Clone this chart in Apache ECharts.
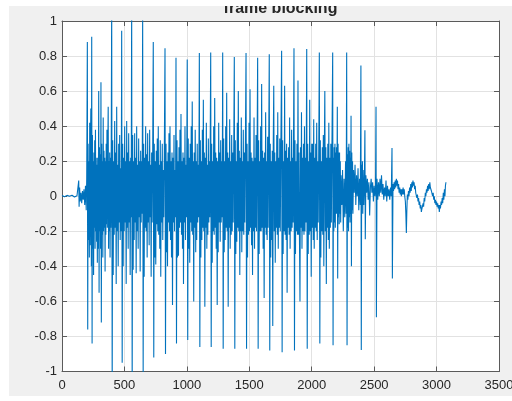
<!DOCTYPE html>
<html>
<head>
<meta charset="utf-8">
<script src="https://cdn.jsdelivr.net/npm/echarts@6/dist/echarts.min.js"></script>
<style>
  html, body { margin: 0; padding: 0; background: #ffffff; width: 512px; height: 401px; overflow: hidden; }
  #fig { position: absolute; left: 9px; top: 6px; width: 503px; height: 390px; background: #f0f0f0; }
</style>
</head>
<body>
<div id="fig"></div>
<script>
// Axis ticks
const xTicks = [0, 500, 1000, 1500, 2000, 2500, 3000, 3500];
const yTicks = [-1, -0.8, -0.6, -0.4, -0.2, 0, 0.2, 0.4, 0.6, 0.8, 1];

// Leading silence and the first irregular glottal pulses, [sample, amplitude]
const onset = [
  [0, 0.004], [20, -0.003], [40, 0.005], [60, 0.0], [80, 0.006], [100, -0.004], [120, 0.003], [130, 0.0],
  [134, 0.09], [137, -0.06], [141, 0.05], [146, -0.03], [152, 0.02], [158, -0.04], [164, 0.03], [170, -0.02],
  [176, 0.04], [182, -0.05], [188, 0.06], [194, -0.08], [198, 0.1],
  [203, 0.88], [206, -0.76], [209, 0.3], [212, -0.25], [216, 0.2], [219, -0.35], [222, 0.42], [225, -0.28], [228, 0.3], [231, 0.5], [235, -0.4],
  [238, 0.91], [241, -0.84], [244, 0.35], [247, -0.3], [250, 0.2], [253, -0.45], [256, 0.25], [259, -0.18], [262, 0.32], [265, -0.3], [268, 0.38], [271, -0.2],
  [274, 0.22], [277, -0.26], [280, 0.18], [283, -0.38], [286, 0.22], [290, -0.3], [294, 0.6], [297, -0.55], [300, 0.28], [303, -0.2], [306, 0.24], [309, -0.3],
  [312, 0.65], [315, -0.72], [318, 0.3], [321, -0.22], [324, 0.2], [327, -0.35], [330, 0.45], [333, -0.2], [336, 0.26], [339, -0.18], [342, 0.22], [345, -0.43],
  [348, 0.2], [351, -0.22], [354, 0.3], [357, -0.16], [360, 0.38], [363, -0.18], [366, 0.22], [370, 0.51], [373, -0.3], [376, 0.2], [379, -0.2], [382, 0.25], [385, -0.35],
  [388, 0.22], [391, -0.18], [394, 0.2]
];

// Voiced section: sample where each pitch pulse starts, and the pulse's
// amplitudes taken every 4 samples from that start
const pulseStep = 4;
const pulseStarts = [398, 478, 558, 646, 731, 825, 913, 1003, 1100, 1191, 1287, 1380, 1474, 1567, 1660, 1759, 1858, 1960, 2061];
const pulseShapes = [
  [1.12, -1.1, 0.32, -0.45, 0.2, -0.22, 0.43, -0.18, 0.25, -0.5, 0.51, -0.2, 0.18, -0.4, 0.3, -0.15, 0.35, -0.25, 0.16, -0.2],
  [0.945, -0.95, 0.3, -0.4, 0.22, -0.2, 0.4, -0.15, 0.2, -0.5, 0.43, -0.18, 0.25, -0.3, 0.36, -0.15, 0.2, -0.45, 0.22, -0.12],
  [1.1, -1.1, 0.35, -0.42, 0.2, -0.25, 0.36, -0.15, 0.22, -0.44, 0.4, -0.2, 0.18, -0.3, 0.33, -0.12, 0.2, -0.43, 0.26, -0.15, 0.2, -0.1],
  [1.05, -1.02, 0.3, -0.46, 0.22, -0.18, 0.4, -0.2, 0.24, -0.35, 0.36, -0.15, 0.2, -0.28, 0.38, -0.12, 0.18, -0.46, 0.25, -0.15, 0.2],
  [0.88, -0.92, 0.3, -0.35, 0.2, -0.39, 0.26, -0.16, 0.33, -0.2, 0.4, -0.22, 0.18, -0.3, 0.32, -0.46, 0.2, -0.15, 0.3, -0.25, 0.15, -0.12, 0.2],
  [0.845, -0.9, 0.3, -0.32, 0.2, -0.4, 0.25, -0.15, 0.36, -0.2, 0.4, -0.25, 0.2, -0.35, 0.25, -0.62, 0.22, -0.15, 0.35, -0.2, 0.15, -0.12],
  [0.79, -0.84, 0.32, -0.35, 0.2, -0.34, 0.28, -0.18, 0.38, -0.15, 0.47, -0.22, 0.2, -0.3, 0.25, -0.5, 0.22, -0.15, 0.4, -0.25, 0.18, -0.12],
  [0.78, -0.82, 0.33, -0.3, 0.22, -0.38, 0.3, -0.15, 0.4, -0.2, 0.54, -0.22, 0.2, -0.6, 0.25, -0.18, 0.38, -0.32, 0.2, -0.25, 0.3, -0.15, 0.18, -0.12],
  [0.817, -0.86, 0.32, -0.35, 0.2, -0.25, 0.38, -0.18, 0.55, -0.2, 0.25, -0.63, 0.22, -0.18, 0.42, -0.3, 0.18, -0.22, 0.33, -0.15, 0.2, -0.12],
  [0.82, -0.86, 0.3, -0.38, 0.2, -0.2, 0.4, -0.22, 0.56, -0.18, 0.25, -0.3, 0.22, -0.62, 0.2, -0.32, 0.42, -0.15, 0.25, -0.26, 0.32, -0.15, 0.2, -0.12],
  [0.82, -0.87, 0.33, -0.32, 0.2, -0.25, 0.4, -0.18, 0.59, -0.2, 0.25, -0.63, 0.22, -0.18, 0.44, -0.3, 0.2, -0.22, 0.35, -0.2, 0.25, -0.15, 0.2],
  [0.794, -0.87, 0.32, -0.33, 0.2, -0.26, 0.42, -0.18, 0.6, -0.2, 0.26, -0.45, 0.22, -0.2, 0.45, -0.32, 0.2, -0.2, 0.38, -0.22, 0.25, -0.15, 0.22],
  [0.817, -0.87, 0.3, -0.35, 0.2, -0.22, 0.42, -0.2, 0.61, -0.18, 0.25, -0.28, 0.22, -0.45, 0.2, -0.2, 0.45, -0.3, 0.22, -0.18, 0.35, -0.2, 0.22],
  [0.79, -0.87, 0.32, -0.33, 0.2, -0.2, 0.4, -0.2, 0.64, -0.18, 0.26, -0.3, 0.22, -0.58, 0.25, -0.18, 0.48, -0.22, 0.2, -0.25, 0.34, -0.18, 0.22],
  [0.81, -0.88, 0.3, -0.35, 0.2, -0.25, 0.26, -0.74, 0.3, 0.63, -0.2, 0.25, -0.38, 0.2, -0.18, 0.35, -0.22, 0.48, -0.3, 0.22, -0.18, 0.33, -0.2, 0.2],
  [0.83, -0.89, 0.32, -0.33, 0.2, -0.2, 0.63, -0.22, 0.26, -0.25, 0.3, -0.55, 0.22, -0.18, 0.28, -0.22, 0.45, -0.3, 0.2, -0.2, 0.38, -0.18, 0.22, -0.15],
  [0.845, -0.88, 0.32, -0.33, 0.2, -0.2, 0.3, -0.22, 0.66, -0.22, 0.25, -0.25, -0.6, 0.28, -0.18, 0.48, -0.3, 0.22, -0.2, 0.3, -0.22, 0.4, -0.2, 0.22, -0.15],
  [0.84, -0.87, 0.3, -0.33, 0.2, -0.22, 0.55, -0.2, 0.25, -0.46, 0.3, -0.18, 0.3, -0.25, 0.44, -0.3, 0.22, -0.18, 0.3, -0.2, 0.42, -0.25, 0.2, -0.15, 0.22],
  [0.82, -0.84, 0.32, -0.35, 0.2, -0.2, 0.28, -0.22, 0.35, -0.4, 0.25, 0.6, -0.2, 0.28, -0.5, 0.22, -0.18, 0.3, -0.25, 0.42, -0.3, 0.22, -0.18, 0.3, -0.15, 0.2]
];

// Fading pulses at the end of the vowel, [sample, amplitude]
const decay = [
  [2168, 0.82], [2171, -0.85], [2174, 0.22], [2177, -0.2], [2180, 0.28], [2183, -0.15], [2186, 0.3], [2189, -0.18], [2192, 0.25], [2195, -0.1], [2198, 0.28], [2201, -0.1], [2205, 0.51], [2208, -0.47],
  [2211, 0.3], [2214, -0.12], [2217, 0.25], [2220, -0.16], [2223, 0.25], [2226, -0.1], [2229, 0.2], [2232, -0.15], [2235, 0.12], [2241, -0.05], [2247, 0.15], [2253, -0.2], [2259, 0.1], [2265, -0.12], [2271, 0.2], [2276, -0.1],
  [2280, 0.82], [2283, -0.85], [2286, 0.24], [2289, -0.18], [2292, 0.28], [2295, -0.2], [2298, 0.3], [2301, -0.12], [2304, 0.26], [2307, -0.15], [2310, 0.22], [2312, -0.1], [2315, 0.46], [2318, -0.4],
  [2321, 0.25], [2324, -0.08], [2327, 0.2], [2330, -0.1], [2335, 0.15], [2341, 0.02], [2347, 0.18], [2353, -0.05], [2359, 0.12], [2365, 0.0], [2371, 0.16], [2377, -0.08], [2383, 0.1], [2389, -0.05],
  [2394, 0.746], [2397, -0.877], [2400, 0.18], [2403, -0.05], [2406, 0.2], [2409, -0.1], [2412, 0.15], [2417, -0.05], [2422, 0.1], [2426, 0.376], [2429, -0.245], [2434, 0.12], [2440, 0.02], [2446, 0.1],
  [2452, -0.02], [2458, 0.08], [2464, -0.11], [2470, 0.05], [2476, 0.1], [2482, 0.02], [2488, 0.08], [2494, -0.03], [2500, 0.06], [2506, 0.0], [2511, 0.05],
  [2515, 0.51], [2518, -0.69], [2523, 0.1], [2529, -0.02], [2535, 0.08], [2541, 0.0], [2547, 0.1], [2553, 0.02], [2559, 0.12], [2565, 0.01], [2571, 0.07], [2577, -0.02], [2583, 0.05],
  [2589, 0.0], [2595, 0.09], [2601, -0.03], [2607, 0.06], [2613, 0.0], [2619, 0.04], [2625, -0.02], [2631, 0.05], [2637, 0.0],
  [2643, 0.275], [2646, -0.47]
];

// Low-level tail after voicing stops, [sample, amplitude]
const tail = [
  [2651, 0.07], [2655, 0.03], [2660, 0.08], [2664, 0.04], [2669, 0.09], [2673, 0.05], [2678, 0.1], [2682, 0.06], [2687, 0.09], [2691, 0.04], [2696, 0.07], [2700, 0.02],
  [2705, 0.05], [2709, 0.01], [2714, 0.04], [2718, 0.0], [2723, 0.04], [2727, 0.01], [2732, 0.05], [2736, 0.01], [2741, 0.04], [2745, 0.0], [2750, -0.03], [2754, -0.1],
  [2758, -0.21], [2762, -0.08], [2766, 0.01], [2770, -0.02], [2775, 0.03], [2779, 0.0], [2784, 0.05], [2788, 0.02], [2793, 0.07], [2797, 0.03], [2802, 0.08], [2806, 0.05],
  [2811, 0.09], [2815, 0.06], [2820, 0.08], [2824, 0.04], [2829, 0.06], [2833, 0.02], [2838, 0.03], [2842, -0.01], [2847, 0.01], [2851, -0.03], [2856, -0.01], [2860, -0.05],
  [2865, -0.03], [2869, -0.07], [2874, -0.05], [2878, -0.09], [2883, -0.07], [2887, -0.08], [2892, -0.04], [2896, -0.06], [2901, -0.01], [2905, -0.03], [2910, 0.02], [2914, 0.0],
  [2919, 0.04], [2923, 0.02], [2928, 0.06], [2932, 0.03], [2937, 0.07], [2941, 0.04], [2946, 0.08], [2950, 0.05], [2955, 0.06], [2959, 0.03], [2964, 0.04], [2968, 0.0],
  [2973, 0.02], [2977, -0.02], [2982, 0.0], [2986, -0.04], [2991, -0.02], [2995, -0.05], [3000, -0.03], [3004, -0.06], [3009, -0.04], [3013, -0.07], [3018, -0.05], [3022, -0.09],
  [3027, -0.05], [3031, -0.07], [3036, -0.03], [3040, -0.05], [3045, -0.01], [3049, -0.04], [3054, 0.02], [3058, -0.02], [3063, 0.04], [3067, 0.0], [3071, 0.06], [3075, 0.08]
];

// Assemble the full waveform in sample order
const voiced = [];
pulseStarts.forEach((start, i) => {
  pulseShapes[i].forEach((amp, k) => voiced.push([start + k * pulseStep, amp]));
});
const waveform = onset.concat(voiced, decay, tail);

const axisColor = '#5a5a5a';
const textColor = '#262626';
const font = 'Liberation Sans, Arial, Helvetica, sans-serif';

function fmtY(v) {
  const r = Math.round(v * 10) / 10;
  return (r === 0 ? 0 : r).toString();
}
function fmtX(v) {
  return String(Math.round(v));
}

const plotLeft = 53, plotTop = 15, plotW = 437, plotH = 350.5;

const chart = echarts.init(document.getElementById('fig'), null, { renderer: 'canvas' });
chart.setOption({
  animation: false,
  backgroundColor: 'transparent',
  grid: {
    left: plotLeft, top: plotTop, width: plotW, height: plotH,
    containLabel: false, outerBoundsMode: 'none',
    show: true, backgroundColor: '#ffffff', borderWidth: 0
  },
  graphic: [{
    type: 'text',
    x: plotLeft + plotW / 2,
    y: 11,
    style: {
      text: 'frame blocking',
      align: 'center',
      verticalAlign: 'bottom',
      fill: textColor,
      font: 'bold 16px ' + font
    },
    z: 100
  }],
  xAxis: [{
    type: 'value', position: 'bottom',
    min: xTicks[0], max: xTicks[xTicks.length - 1], interval: 500,
    axisLine: { show: true, onZero: false, lineStyle: { color: axisColor, width: 1 } },
    axisTick: { show: true, inside: true, length: 5, lineStyle: { color: axisColor } },
    axisLabel: { show: true, margin: 7, color: textColor, fontSize: 13, fontFamily: font, formatter: fmtX, showMinLabel: true, showMaxLabel: true },
    splitLine: { show: true, lineStyle: { color: '#e2e2e2', width: 1 } }
  }, {
    type: 'value', position: 'top',
    min: xTicks[0], max: xTicks[xTicks.length - 1], interval: 500,
    axisLine: { show: true, onZero: false, lineStyle: { color: axisColor, width: 1 } },
    axisTick: { show: true, inside: true, length: 5, lineStyle: { color: axisColor } },
    axisLabel: { show: false },
    splitLine: { show: false }
  }],
  yAxis: [{
    type: 'value', position: 'left',
    min: yTicks[0], max: yTicks[yTicks.length - 1], interval: 0.2,
    axisLine: { show: true, onZero: false, lineStyle: { color: axisColor, width: 1 } },
    axisTick: { show: true, inside: true, length: 5, lineStyle: { color: axisColor } },
    axisLabel: { show: true, margin: 5, color: textColor, fontSize: 13, fontFamily: font, formatter: fmtY },
    splitLine: { show: true, lineStyle: { color: '#e2e2e2', width: 1 } }
  }, {
    type: 'value', position: 'right',
    min: yTicks[0], max: yTicks[yTicks.length - 1], interval: 0.2,
    axisLine: { show: true, onZero: false, lineStyle: { color: axisColor, width: 1 } },
    axisTick: { show: true, inside: true, length: 5, lineStyle: { color: axisColor } },
    axisLabel: { show: false },
    splitLine: { show: false }
  }],
  series: [{
    type: 'line',
    xAxisIndex: 0,
    yAxisIndex: 0,
    data: waveform,
    showSymbol: false,
    clip: true,
    sampling: null,
    lineStyle: { color: '#0072BD', width: 1.1 },
    z: 3
  }]
});
</script>
</body>
</html>
